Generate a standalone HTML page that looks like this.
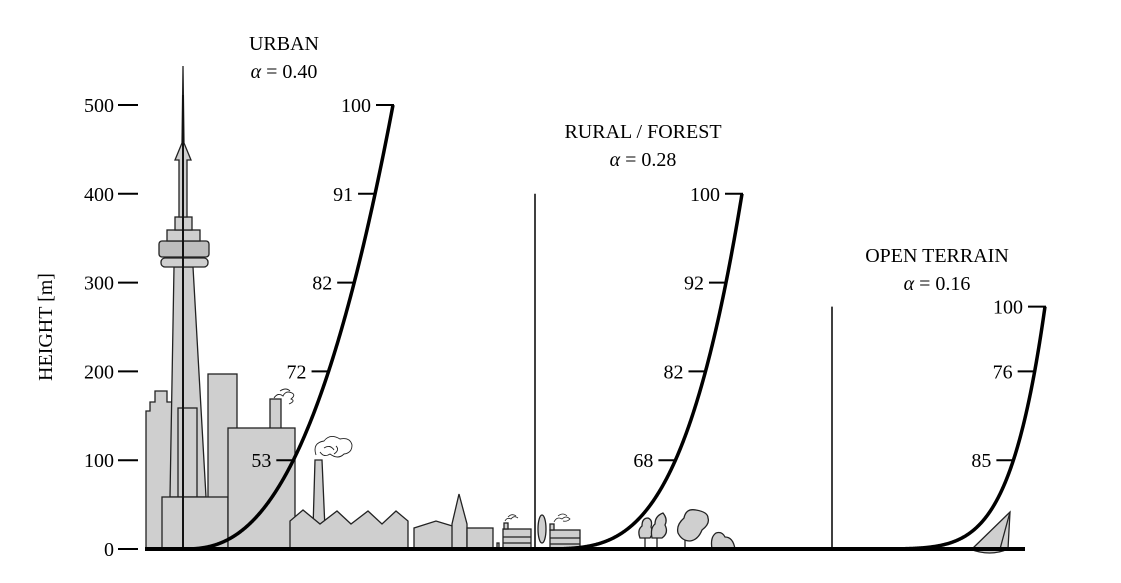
<!DOCTYPE html>
<html><head><meta charset="utf-8"><style>
html,body{margin:0;padding:0;background:#fff;}
svg{display:block;font-family:"Liberation Serif",serif;}
</style></head><body>
<svg id="chart" width="1121" height="583" viewBox="0 0 1121 583">
<g id="scenery" fill="#cfcfcf" stroke="#222" stroke-width="1.3">
  <polygon points="146,549 146,411 150,411 150,402 155,402 155,391 167,391 167,402 172,402 172,411 178,411 178,549"/>
  <polygon points="174,267 193,267 206,497 170,497"/>
  <rect x="208" y="374" width="29" height="175"/>
  <rect x="178" y="408" width="19" height="89"/>
  <rect x="162" y="497" width="66" height="52"/>
  <rect x="161" y="258" width="47" height="9" rx="4"/>
  <rect x="159" y="241" width="50" height="16" rx="3" fill="#bdbdbd"/>
  <rect x="167" y="230" width="33" height="11"/>
  <rect x="175" y="217" width="17" height="13"/>
  <polygon points="179,217 179,160 175,160 182,143 183,66 184,143 191,160 187,160 187,217"/>
  <line x1="183" y1="95" x2="183" y2="549" stroke="#111" stroke-width="2"/>
  <rect x="270" y="399" width="11" height="40"/>
  <rect x="228" y="428" width="67" height="121"/>
  <polygon points="313,529 315,460 322,460 325,529"/>
  <polygon points="290,549 290,521 303,510 320,524 337,511 351,524 368,511 382,524 396,511 408,521 408,549"/>
  <path fill="none" stroke-width="0.9" d="M274,398 q4,-6 9,-2 q3,-6 9,-3 q4,2 -1,6 q5,2 -2,5 M280,391 q6,-4 10,0"/>
  <path fill="none" stroke-width="0.9" d="M316,455 q-4,-12 8,-14 q6,-8 16,-2 q10,-2 12,6 q0,8 -8,9 q-6,6 -14,0 q-6,4 -10,-2 M324,448 q6,-4 10,2 M336,446 q4,4 -2,8"/>
  <polygon points="414,549 414,528 436,521 459,528 459,549"/>
  <polygon points="452,549 452,524 459,494 467,524 467,549"/>
  <rect x="467" y="528" width="26" height="21"/>
  <rect x="497" y="543" width="2" height="6"/>
  <rect x="503" y="529" width="28" height="20"/>
  <rect x="504" y="523" width="4" height="6"/>
  <line x1="503" y1="537" x2="531" y2="537"/>
  <line x1="503" y1="543" x2="531" y2="543"/>
  <path fill="none" stroke-width="0.8" d="M505,521 q2,-4 6,-2 q3,-4 7,-1 M508,517 q4,-4 8,-1"/>
  <ellipse cx="542" cy="529" rx="4" ry="14"/>
  <rect x="550" y="530" width="30" height="19"/>
  <rect x="550" y="524" width="4" height="6"/>
  <line x1="550" y1="538" x2="580" y2="538"/>
  <line x1="550" y1="544" x2="580" y2="544"/>
  <path fill="none" stroke-width="0.8" d="M554,522 q3,-6 8,-3 q4,-4 8,0 q-3,3 -7,2 M558,516 q5,-4 9,0"/>
  <line x1="645" y1="549" x2="645" y2="538"/>
  <path d="M640,538 q-3,-8 2,-12 q0,-8 6,-8 q5,2 3,9 q3,6 -1,11 z"/>
  <line x1="657" y1="549" x2="657" y2="538"/>
  <path d="M652,538 q-2,-10 3,-14 q0,-8 8,-11 q5,6 2,12 q4,8 -3,13 z"/>
  <line x1="685" y1="549" x2="685" y2="540"/>
  <path d="M678,533 q-2,-8 6,-15 q2,-10 12,-8 q12,2 12,8 q2,6 -6,12 q-4,10 -12,11 q-8,0 -12,-8 z"/>
  <path d="M712,549 q-2,-12 4,-16 q6,-2 9,4 q8,0 10,12 z"/>
  <path d="M970,549 q20,8 38,0 z"/>
  <polygon points="972,549 1010,512 1008,549"/>
  <line x1="1000" y1="549" x2="1010" y2="512"/>
</g>
<g id="axis"></g>
<g id="profiles"></g>
<line x1="145" y1="549" x2="1025" y2="549" stroke="#000" stroke-width="4"/>
<text x="52" y="327" font-size="20" text-anchor="middle" transform="rotate(-90 52 327)">HEIGHT [m]</text>
</svg>
<script>
// y axis
const yTicks = [0, 100, 200, 300, 400, 500];
// profile definitions
const profileNames = ["URBAN", "RURAL / FOREST", "OPEN TERRAIN"];
const profileAlphas = [0.40, 0.28, 0.16];
const profileOrigins = [183, 535, 832];
const profileWidths = [210, 207, 213];
const profileTops = [500, 400, 273];
// tick labels on each profile
const urbanTickH = [100, 200, 300, 400, 500];
const urbanTickLabels = ["53", "72", "82", "91", "100"];
const ruralTickH = [100, 200, 300, 400];
const ruralTickLabels = ["68", "82", "92", "100"];
const openTickH = [100, 200, 273];
const openTickLabels = ["85", "76", "100"];

const NS = "http://www.w3.org/2000/svg";
function yS(h){ return 549 - h * 0.888; }
function mk(tag, attrs, parent){
  const e = document.createElementNS(NS, tag);
  for (const k in attrs) e.setAttribute(k, attrs[k]);
  parent.appendChild(e);
  return e;
}
const axis = document.getElementById('axis');
yTicks.forEach(v => {
  const l = mk('line', {x1:118, x2:138, y1:yS(v), y2:yS(v), stroke:'#000', 'stroke-width':2}, axis);
  
  
  const t = mk('text', {x:114, y:yS(v)+7, 'font-size':20, 'text-anchor':'end'}, axis);
  t.textContent = v;
  
  
});

const pg = document.getElementById('profiles');
const allTH = [urbanTickH, ruralTickH, openTickH];
const allTL = [urbanTickLabels, ruralTickLabels, openTickLabels];
const titlePos = [[284, 50], [643, 138], [937, 262]];
const keys = ['urban', 'rural', 'open'];

function speedAt(i, h){ return Math.pow(h / profileTops[i], profileAlphas[i]); }
function xS(i, s){ return profileOrigins[i] + s * profileWidths[i]; }

for (let i = 0; i < 3; i++) {
  const key = keys[i];
  if (i > 0) {
    const v = mk('line', {x1:profileOrigins[i], x2:profileOrigins[i], y1:yS(profileTops[i]), y2:549, stroke:'#000', 'stroke-width':1.5}, pg);
    
    
  }
  let d = '';
  const N = 400;
  for (let k = 0; k <= N; k++) {
    const h = profileTops[i] * Math.pow(k / N, 3);
    d += (k ? ' L' : 'M') + xS(i, speedAt(i, h)).toFixed(2) + ',' + yS(h).toFixed(2);
  }
  const c = mk('path', {d:d, fill:'none', stroke:'#000', 'stroke-width':3.5, 'stroke-linejoin':'round'}, pg);
  
  
  allTH[i].forEach((h, k) => {
    const x = xS(i, speedAt(i, h));
    const l = mk('line', {x1:x-17, x2:x+1, y1:yS(h), y2:yS(h), stroke:'#000', 'stroke-width':2}, pg);
    
    
    const t = mk('text', {x:x-22, y:yS(h)+7, 'font-size':20, 'text-anchor':'end'}, pg);
    t.textContent = allTL[i][k];
    
    
  });
  const tt = mk('text', {x:titlePos[i][0], y:titlePos[i][1], 'font-size':20, 'text-anchor':'middle'}, pg);
  tt.textContent = profileNames[i];
  
  
  const ta = mk('text', {x:titlePos[i][0], y:titlePos[i][1]+28, 'font-size':20, 'text-anchor':'middle'}, pg);
  ta.innerHTML = '<tspan font-style="italic">α</tspan> = ' + profileAlphas[i].toFixed(2);
  
  
}
</script>
</body></html>
